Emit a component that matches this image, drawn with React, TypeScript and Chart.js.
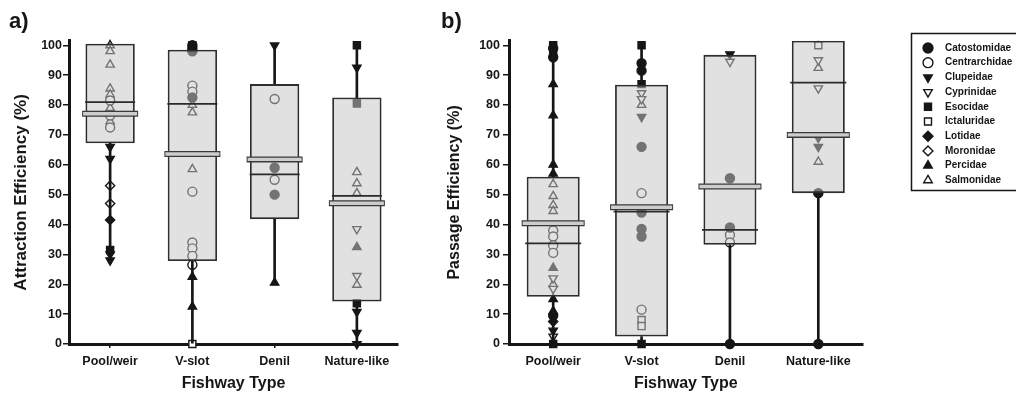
import React, { useEffect, useRef } from 'react';
import { Chart, registerables } from 'chart.js';

Chart.register(...registerables);

// ---------- categories & families ----------
const FISHWAY_TYPES = ['Pool/weir', 'V-slot', 'Denil', 'Nature-like'];
const FAMILIES = [
  'Catostomidae', 'Centrarchidae', 'Clupeidae', 'Cyprinidae', 'Esocidae',
  'Ictaluridae', 'Lotidae', 'Moronidae', 'Percidae', 'Salmonidae',
];
const Y_TICKS = [0, 10, 20, 30, 40, 50, 60, 70, 80, 90, 100];

type Obs = [string, number];

// ---------- a) Attraction efficiency: individual estimates ----------
const attractionPoolWeir: Obs[] = [
  ['Salmonidae', 100], ['Salmonidae', 98], ['Salmonidae', 93.5], ['Salmonidae', 85.5],
  ['Salmonidae', 83.5], ['Centrarchidae', 81.5], ['Salmonidae', 79], ['Centrarchidae', 76.5],
  ['Salmonidae', 74.5], ['Centrarchidae', 72.5], ['Clupeidae', 66], ['Clupeidae', 62],
  ['Moronidae', 53], ['Moronidae', 47], ['Lotidae', 41.5], ['Esocidae', 31.5],
  ['Clupeidae', 30], ['Clupeidae', 28],
];
const attractionVSlot: Obs[] = [
  ['Catostomidae', 100], ['Esocidae', 100], ['Catostomidae', 99], ['Catostomidae', 98],
  ['Centrarchidae', 86.5], ['Centrarchidae', 84.5], ['Catostomidae', 82.5], ['Salmonidae', 80],
  ['Salmonidae', 77.5], ['Salmonidae', 58.5], ['Centrarchidae', 51], ['Centrarchidae', 34],
  ['Centrarchidae', 32], ['Centrarchidae', 29.5], ['Centrarchidae', 26.5], ['Percidae', 22.5],
  ['Percidae', 12.5], ['Ictaluridae', 0],
];
const attractionDenil: Obs[] = [
  ['Clupeidae', 100], ['Centrarchidae', 82], ['Catostomidae', 59], ['Centrarchidae', 55],
  ['Catostomidae', 50], ['Percidae', 20.5],
];
const attractionNatureLike: Obs[] = [
  ['Esocidae', 100], ['Clupeidae', 92.5], ['Esocidae', 80.5], ['Salmonidae', 57.5],
  ['Salmonidae', 53.8], ['Salmonidae', 50.5], ['Cyprinidae', 38.5], ['Percidae', 32.4],
  ['Cyprinidae', 22.8], ['Salmonidae', 19.8], ['Esocidae', 13.6], ['Clupeidae', 10.8],
  ['Clupeidae', 3.7], ['Clupeidae', 0],
];

// ---------- a) box statistics ----------
const attractionMin = [27, 0, 20.9, 0];
const attractionQ1 = [67.2, 27.8, 41.8, 14.2];
const attractionMedian = [81, 80.4, 56.8, 49.6];
const attractionMean = [77.1, 63.6, 61.8, 47.1];
const attractionQ3 = [100.5, 98.5, 87, 82.5];
const attractionMax = [100.5, 100, 100, 100];

// ---------- b) Passage efficiency: individual estimates ----------
const passagePoolWeir: Obs[] = [
  ['Esocidae', 100], ['Catostomidae', 99], ['Esocidae', 97.5], ['Catostomidae', 96],
  ['Percidae', 87], ['Percidae', 76.5], ['Percidae', 60], ['Percidae', 57],
  ['Salmonidae', 53.5], ['Salmonidae', 49.5], ['Salmonidae', 46.5], ['Salmonidae', 44.5],
  ['Centrarchidae', 38], ['Centrarchidae', 36], ['Centrarchidae', 33], ['Centrarchidae', 30.5],
  ['Percidae', 25.5], ['Cyprinidae', 22], ['Salmonidae', 20], ['Cyprinidae', 18.5],
  ['Percidae', 15], ['Percidae', 11], ['Catostomidae', 9.5], ['Lotidae', 7.5],
  ['Clupeidae', 4.5], ['Cyprinidae', 2.5], ['Esocidae', 0],
];
const passageVSlot: Obs[] = [
  ['Esocidae', 100], ['Catostomidae', 94], ['Catostomidae', 91.5], ['Esocidae', 87],
  ['Cyprinidae', 84], ['Cyprinidae', 82], ['Salmonidae', 80], ['Clupeidae', 76],
  ['Catostomidae', 66], ['Centrarchidae', 50.5], ['Catostomidae', 44], ['Catostomidae', 38.5],
  ['Catostomidae', 36], ['Centrarchidae', 11.5], ['Ictaluridae', 8], ['Ictaluridae', 6],
  ['Esocidae', 0],
];
const passageDenil: Obs[] = [
  ['Clupeidae', 97], ['Cyprinidae', 94.5], ['Catostomidae', 55.5], ['Catostomidae', 39],
  ['Centrarchidae', 36.5], ['Centrarchidae', 34], ['Catostomidae', 0],
];
const passageNatureLike: Obs[] = [
  ['Ictaluridae', 100], ['Cyprinidae', 95], ['Salmonidae', 92.4], ['Cyprinidae', 85.6],
  ['Clupeidae', 69], ['Clupeidae', 66], ['Salmonidae', 61], ['Catostomidae', 50.5],
  ['Catostomidae', 0],
];

// ---------- b) box statistics ----------
const passageMin = [0, 0, 0, 0];
const passageQ1 = [15.8, 2.5, 33.2, 50.5];
const passageMedian = [33.7, 44.3, 38.2, 87.5];
const passageMean = [40.4, 45.8, 52.7, 70];
const passageQ3 = [56, 86.8, 96.8, 101.5];
const passageMax = [101, 100, 96.8, 101.5];

// ---------- styling ----------
const INK = '#161616';
const FONT = "'Liberation Sans', Arial, Helvetica, sans-serif";
const FAMILY_SHAPES = ['circle', 'circle', 'triangle', 'triangle', 'rect', 'rect', 'rectRot', 'rectRot', 'triangle', 'triangle'];
const FAMILY_FILLED = [true, false, true, false, true, false, true, false, true, false];
const FAMILY_ROTATION = [0, 0, 180, 180, 0, 0, 0, 0, 0, 0];
const FAMILY_RADIUS = [4.5, 4.5, 4.8, 4.8, 5, 5, 4.6, 4.6, 4.8, 4.8];

function familyStyle(f: number) {
  return {
    pointStyle: FAMILY_SHAPES[f],
    pointRotation: FAMILY_ROTATION[f],
    pointRadius: FAMILY_RADIUS[f],
    pointBackgroundColor: FAMILY_FILLED[f] ? INK : '#ffffff',
    pointBorderColor: INK,
    pointBorderWidth: 1.4,
  };
}

function pointDatasets(groups: Obs[][]) {
  return FAMILIES.map((fam, f) => ({
    type: 'line',
    label: fam,
    data: groups.flatMap((obs, c) =>
      obs.filter((o) => o[0] === fam).map((o) => ({ x: FISHWAY_TYPES[c], y: o[1] }))
    ),
    showLine: false,
    clip: false,
    order: 40,
    ...familyStyle(f),
  }));
}

type Stats = { min: number[]; q1: number[]; median: number[]; mean: number[]; q3: number[]; max: number[] };

function boxDatasets(s: Stats, medianHalf: number, meanHalf: number) {
  const bar = (label: string, data: number[][], extra: any) => ({
    type: 'bar', label, data, grouped: false, categoryPercentage: 1, borderSkipped: false, ...extra,
  });
  const marks = (label: string, values: number[], extra: any) => ({
    type: 'line', label, showLine: false, clip: false, pointStyle: 'line',
    data: FISHWAY_TYPES.map((t, i) => ({ x: t, y: values[i] })), ...extra,
  });
  return [
    bar('Lower whisker', FISHWAY_TYPES.map((_, i) => [s.min[i], s.q1[i]]),
      { barThickness: 2, backgroundColor: INK, borderWidth: 0, order: 35 }),
    bar('Upper whisker', FISHWAY_TYPES.map((_, i) => [s.q3[i], s.max[i]]),
      { barThickness: 2, backgroundColor: INK, borderWidth: 0, order: 35 }),
    bar('Interquartile range', FISHWAY_TYPES.map((_, i) => [s.q1[i], s.q3[i]]),
      { barPercentage: 0.6, backgroundColor: 'rgba(198,198,198,0.53)', borderColor: '#2e2e2e', borderWidth: 1.8, order: 30 }),
    marks('Median', s.median, { pointRadius: medianHalf, pointBorderWidth: 1.8, pointBorderColor: '#2a2a2a', order: 20 }),
    marks('Mean outline', s.mean, { pointRadius: meanHalf, pointBorderWidth: 6, pointBorderColor: '#3a3a3a', order: 12 }),
    marks('Mean', s.mean, { pointRadius: meanHalf - 1, pointBorderWidth: 3.4, pointBorderColor: '#cdcdcd', order: 10 }),
  ];
}

type PanelSpec = {
  label: string; yTitle: string; yTitleSize: number; yTitlePad: number;
  groups: Obs[][]; stats: Stats; padLeft: number; padRight: number; yWidth: number;
  yTickPad: number; medianHalf: number; meanHalf: number;
};

function panelConfig(p: PanelSpec): any {
  return {
    type: 'bar',
    data: {
      labels: FISHWAY_TYPES,
      datasets: [...pointDatasets(p.groups), ...boxDatasets(p.stats, p.medianHalf, p.meanHalf)],
    },
    options: {
      responsive: false,
      animation: false,
      events: [],
      layout: { padding: { left: p.padLeft, right: p.padRight, top: 4, bottom: 2 } },
      plugins: {
        legend: { display: false },
        tooltip: { enabled: false },
        title: {
          display: true, text: p.label, align: 'start', color: INK,
          font: { family: FONT, size: 22, weight: 'bold' }, padding: { top: 5, bottom: 5.4 },
        },
      },
      scales: {
        x: {
          type: 'category',
          offset: true,
          afterFit: (s: any) => { s.height = 52; },
          grid: { offset: false, drawOnChartArea: false, drawTicks: true, tickLength: 4, color: INK, lineWidth: 1.5 },
          border: { display: true, color: INK, width: 3 },
          ticks: { color: INK, padding: 6.5, autoSkip: false, maxRotation: 0, font: { family: FONT, size: 12.5, weight: 'bold' } },
          title: {
            display: true, text: 'Fishway Type', color: INK,
            font: { family: FONT, size: 16, weight: 'bold' }, padding: { top: 0, bottom: 2.4 },
          },
        },
        y: {
          type: 'linear',
          min: 0,
          max: 101.5,
          afterFit: (s: any) => { s.width = p.yWidth; },
          afterBuildTicks: (s: any) => { s.ticks = Y_TICKS.map((v) => ({ value: v })); },
          ticks: { stepSize: 10, includeBounds: false, padding: p.yTickPad, color: INK, font: { family: FONT, size: 12.5, weight: 'bold' } },
          grid: { drawOnChartArea: false, drawTicks: true, tickLength: 6, color: INK, lineWidth: 1.5 },
          border: { display: true, color: INK, width: 3 },
          title: {
            display: true, text: p.yTitle, color: INK,
            font: { family: FONT, size: p.yTitleSize, weight: 'bold' }, padding: { top: p.yTitlePad, bottom: 0 },
          },
        },
      },
    },
  };
}

const legendBorder = {
  id: 'legendBorder',
  afterDraw(chart: any) {
    const { ctx } = chart;
    ctx.save();
    ctx.strokeStyle = INK;
    ctx.lineWidth = 1.5;
    ctx.strokeRect(11.5, 33.5, 200, 157);
    ctx.restore();
  },
};

function legendConfig(): any {
  return {
    type: 'scatter',
    data: {
      datasets: FAMILIES.map((fam, f) => ({ label: fam, data: [], ...familyStyle(f) })),
    },
    options: {
      responsive: false,
      animation: false,
      events: [],
      layout: { padding: { top: 38.3, left: 18.3, right: 0, bottom: 0 } },
      scales: { x: { display: false }, y: { display: false } },
      plugins: {
        tooltip: { enabled: false },
        legend: {
          position: 'top',
          align: 'start',
          labels: {
            usePointStyle: true,
            boxWidth: 10,
            boxHeight: 7,
            padding: 4.7,
            color: INK,
            font: { family: FONT, size: 10, weight: 'bold' },
            generateLabels: (chart: any) =>
              Chart.defaults.plugins.legend.labels.generateLabels(chart).map((l: any) => ({
                ...l,
                text: '\u2002\u2009' + l.text,
              })),
          },
        },
      },
    },
    plugins: [legendBorder],
  };
}

function ChartCanvas({ make, left, width, height }: { make: () => any; left: number; width: number; height: number }) {
  const ref = useRef<HTMLCanvasElement | null>(null);
  useEffect(() => {
    const chart = new Chart(ref.current as HTMLCanvasElement, make());
    return () => chart.destroy();
  }, []);
  return (
    <canvas
      ref={ref}
      width={width}
      height={height}
      style={{ position: 'absolute', left, top: 0, width, height, display: 'block' }}
    />
  );
}

const attractionStats: Stats = {
  min: attractionMin, q1: attractionQ1, median: attractionMedian,
  mean: attractionMean, q3: attractionQ3, max: attractionMax,
};
const passageStats: Stats = {
  min: passageMin, q1: passageQ1, median: passageMedian,
  mean: passageMean, q3: passageQ3, max: passageMax,
};

export default function App() {
  return (
    <div style={{ position: 'absolute', left: 0, top: 0, width: 1016, height: 398, background: '#ffffff', overflow: 'hidden' }}>
      <ChartCanvas
        left={0}
        width={432}
        height={398}
        make={() =>
          panelConfig({
            label: 'a)', yTitle: 'Attraction Efficiency (%)', yTitleSize: 17, yTitlePad: 1.8,
            groups: [attractionPoolWeir, attractionVSlot, attractionDenil, attractionNatureLike],
            stats: attractionStats, padLeft: 9, padRight: 30.5, yWidth: 60, yTickPad: 1,
            medianHalf: 25, meanHalf: 28,
          })
        }
      />
      <ChartCanvas
        left={432}
        width={468}
        height={398}
        make={() =>
          panelConfig({
            label: 'b)', yTitle: 'Passage Efficiency (%)', yTitleSize: 16, yTitlePad: 4.4,
            groups: [passagePoolWeir, passageVSlot, passageDenil, passageNatureLike],
            stats: passageStats, padLeft: 9, padRight: 17.5, yWidth: 68, yTickPad: 3,
            medianHalf: 28, meanHalf: 31.5,
          })
        }
      />
      <ChartCanvas left={900} width={116} height={398} make={legendConfig} />
    </div>
  );
}
